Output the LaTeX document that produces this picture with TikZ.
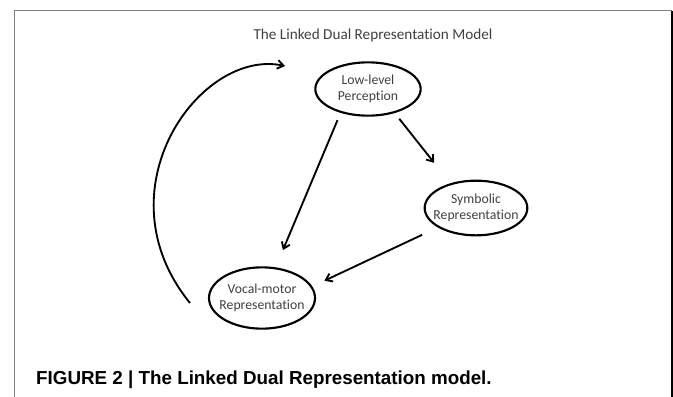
\documentclass[tikz,border=0pt]{standalone}
\usepackage{fontspec}
\setmainfont{Carlito}[Ligatures=CommonOff]
\newfontfamily\captionfont{Liberation Sans}
\usetikzlibrary{arrows.meta, shapes.geometric}

\definecolor{labelgray}{HTML}{404040}
\definecolor{framegray}{HTML}{808080}

\begin{document}
\begin{tikzpicture}[%
    x=0.75pt, y=-0.75pt,
    >={Straight Barb[length=4.5pt,width=6.5pt]},
    box/.style={ellipse, draw, line width=1.6pt, inner xsep=-5pt, inner ysep=0pt,
      align=center, text=labelgray, font=\fontsize{10.3pt}{12pt}\selectfont},
    link/.style={->, line width=1.4pt}
  ]
  \useasboundingbox (0,0) rectangle (673,396);
  \draw[framegray, line width=1pt] (14.5,400) -- (14.5,10.5) -- (672,10.5);
  \draw[line width=1pt] (672,10.5) -- (672,400);

  \node[text=labelgray, font=\fontsize{11.4pt}{13pt}\selectfont] (title) at (373,35) {The Linked Dual Representation Model};

  \node[box, minimum width=79pt, minimum height=40pt] (low) at (368,89) {Low-level\\Perception};
  \node[box, minimum width=77pt, minimum height=41pt] (sym) at (476,208) {Symbolic\\Representation};
  \node[box, minimum width=79.5pt, minimum height=46pt] (vocal) at (262,298) {Vocal-motor\\Representation};

  \coordinate (loopstart) at (190,303);
  \coordinate (loopend) at (285,66);

  \path[link]
    (low.221) edge [shorten <=6pt, shorten >=14pt] (vocal.66)
    (low.318) edge [shorten <=5.5pt, shorten >=19.5pt] (sym.136)
    (sym.207) edge [shorten <=13pt, shorten >=10pt] (vocal.13);
  \draw[link] (loopstart) .. controls (98,190) and (200,48) .. (loopend);

  \node[anchor=base west, font=\captionfont\bfseries\fontsize{14.1pt}{17pt}\selectfont] (caption) at (31.5,384) {FIGURE 2 | The Linked Dual Representation model.};
\end{tikzpicture}
\end{document}
